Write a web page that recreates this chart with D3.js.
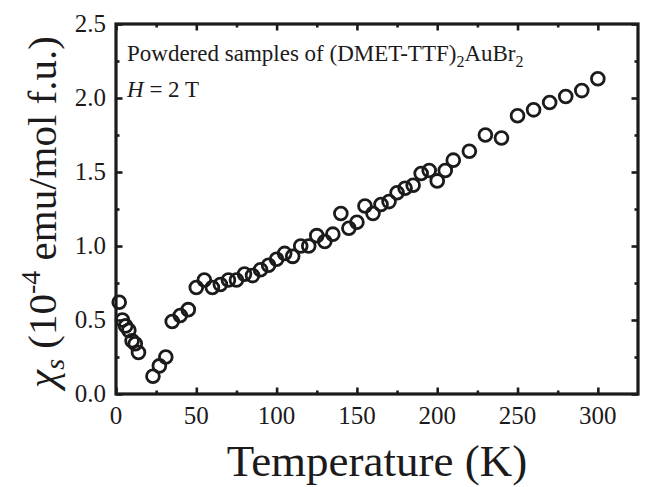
<!DOCTYPE html>
<html>
<head>
<meta charset="utf-8">
<script src="https://cdn.jsdelivr.net/npm/d3@7"></script>
<style>
  html, body { margin: 0; padding: 0; background: #fff; }
  svg { display: block; }
</style>
</head>
<body>
<div id="chart"></div>
<script>
const temps = [2, 4, 6, 8, 10, 12, 14, 23, 27, 31, 35, 40, 45, 50, 55, 60, 65, 70, 75, 80,
  85, 90, 95, 100, 105, 110, 115, 120, 125, 130, 135, 140, 145, 150, 155, 160, 165, 170,
  175, 180, 185, 190, 195, 200, 205, 210, 220, 230, 240, 250, 260, 270, 280, 290, 300];
const chi = [0.62, 0.50, 0.46, 0.43, 0.36, 0.34, 0.28, 0.12, 0.19, 0.25, 0.49, 0.53, 0.57,
  0.72, 0.77, 0.72, 0.74, 0.77, 0.77, 0.81, 0.80, 0.84, 0.87, 0.91, 0.95, 0.93, 1.00, 1.00,
  1.07, 1.03, 1.08, 1.22, 1.12, 1.16, 1.27, 1.22, 1.28, 1.30, 1.36, 1.39, 1.41, 1.49, 1.51,
  1.44, 1.51, 1.58, 1.64, 1.75, 1.73, 1.88, 1.92, 1.97, 2.01, 2.05, 2.13];

const xMajor = [0, 50, 100, 150, 200, 250, 300];
const xMinor = [25, 75, 125, 175, 225, 275];
const yMajor = [0, 0.5, 1.0, 1.5, 2.0, 2.5];
const yMinor = [0.25, 0.75, 1.25, 1.75, 2.25];

const width = 651;
const height = 487;
const m = { left: 116, right: 638, top: 24, bottom: 394 };
const ink = "#1c1a1b";
const font = "'Liberation Serif', 'Times New Roman', serif";

const x = d3.scaleLinear().domain([0, 325]).range([m.left, m.right]);
const y = d3.scaleLinear().domain([0, 2.5]).range([m.bottom, m.top]);

const svg = d3.select("#chart")
  .append("svg")
  .attr("width", width)
  .attr("height", height)
  .style("font-family", font);

// tick marks, all pointing inward
function ticks(axis, vals, size, tx, ty) {
  const g = svg.append("g")
    .attr("transform", "translate(" + tx + "," + ty + ")")
    .call(axis.tickValues(vals).tickSize(size).tickFormat(""));
  g.select(".domain").remove();
  g.selectAll("line").attr("stroke", ink).attr("stroke-width", 2.6);
  g.selectAll("text").remove();
}

ticks(d3.axisBottom(x), xMajor, -6.5, 0, m.bottom);
ticks(d3.axisBottom(x), xMinor, -3.5, 0, m.bottom);
ticks(d3.axisTop(x), xMajor, -6.5, 0, m.top);
ticks(d3.axisTop(x), xMinor, -3.5, 0, m.top);
ticks(d3.axisLeft(y), yMajor, -6.5, m.left, 0);
ticks(d3.axisLeft(y), yMinor, -3.5, m.left, 0);
ticks(d3.axisRight(y), yMajor, -6.5, m.right, 0);
ticks(d3.axisRight(y), yMinor, -3.5, m.right, 0);

// frame
svg.append("rect")
  .attr("x", m.left)
  .attr("y", m.top)
  .attr("width", m.right - m.left)
  .attr("height", m.bottom - m.top)
  .attr("fill", "none")
  .attr("stroke", ink)
  .attr("stroke-width", 3.2);

// tick labels
svg.append("g")
  .selectAll("text")
  .data(xMajor)
  .join("text")
  .attr("x", d => x(d))
  .attr("y", 424)
  .attr("text-anchor", "middle")
  .attr("font-size", "25px")
  .attr("fill", ink)
  .text(d => d);

svg.append("g")
  .selectAll("text")
  .data(yMajor)
  .join("text")
  .attr("x", 106)
  .attr("y", d => y(d) + 8)
  .attr("text-anchor", "end")
  .attr("font-size", "25px")
  .attr("fill", ink)
  .text(d => d.toFixed(1));

// axis titles
svg.append("text")
  .attr("x", (m.left + m.right) / 2)
  .attr("y", 476)
  .attr("text-anchor", "middle")
  .attr("font-size", "45px")
  .attr("fill", ink)
  .text("Temperature (K)");

const yt = svg.append("text")
  .attr("transform", "translate(56," + ((m.top + m.bottom) / 2 + 3) + ") rotate(-90)")
  .attr("text-anchor", "middle")
  .attr("font-size", "41px")
  .attr("fill", ink);
yt.append("tspan").attr("font-style", "italic").text("χ");
yt.append("tspan").attr("font-style", "italic").attr("font-size", "28px").attr("dy", 8).text("s");
yt.append("tspan").attr("dy", -8).text(" (10");
yt.append("tspan").attr("font-size", "28px").attr("dy", -16).text("-4");
yt.append("tspan").attr("dy", 16).text(" emu/mol f.u.)");

// annotation
const note = svg.append("text")
  .attr("x", 127)
  .attr("y", 61)
  .attr("font-size", "23px")
  .attr("fill", ink);
note.append("tspan").text("Powdered samples of (DMET-TTF)");
note.append("tspan").attr("font-size", "16px").attr("dy", 6).text("2");
note.append("tspan").attr("dy", -6).text("AuBr");
note.append("tspan").attr("font-size", "16px").attr("dy", 6).text("2");

const field = svg.append("text")
  .attr("x", 127)
  .attr("y", 97)
  .attr("font-size", "23px")
  .attr("fill", ink);
field.append("tspan").attr("font-style", "italic").text("H");
field.append("tspan").text(" = 2 T");

// open circles
svg.append("g")
  .selectAll("circle")
  .data(temps.map((t, i) => ({ t, v: chi[i] })))
  .join("circle")
  .attr("cx", d => x(d.t))
  .attr("cy", d => y(d.v))
  .attr("r", 6.4)
  .attr("fill", "none")
  .attr("stroke", ink)
  .attr("stroke-width", 2.8);
</script>
</body>
</html>
